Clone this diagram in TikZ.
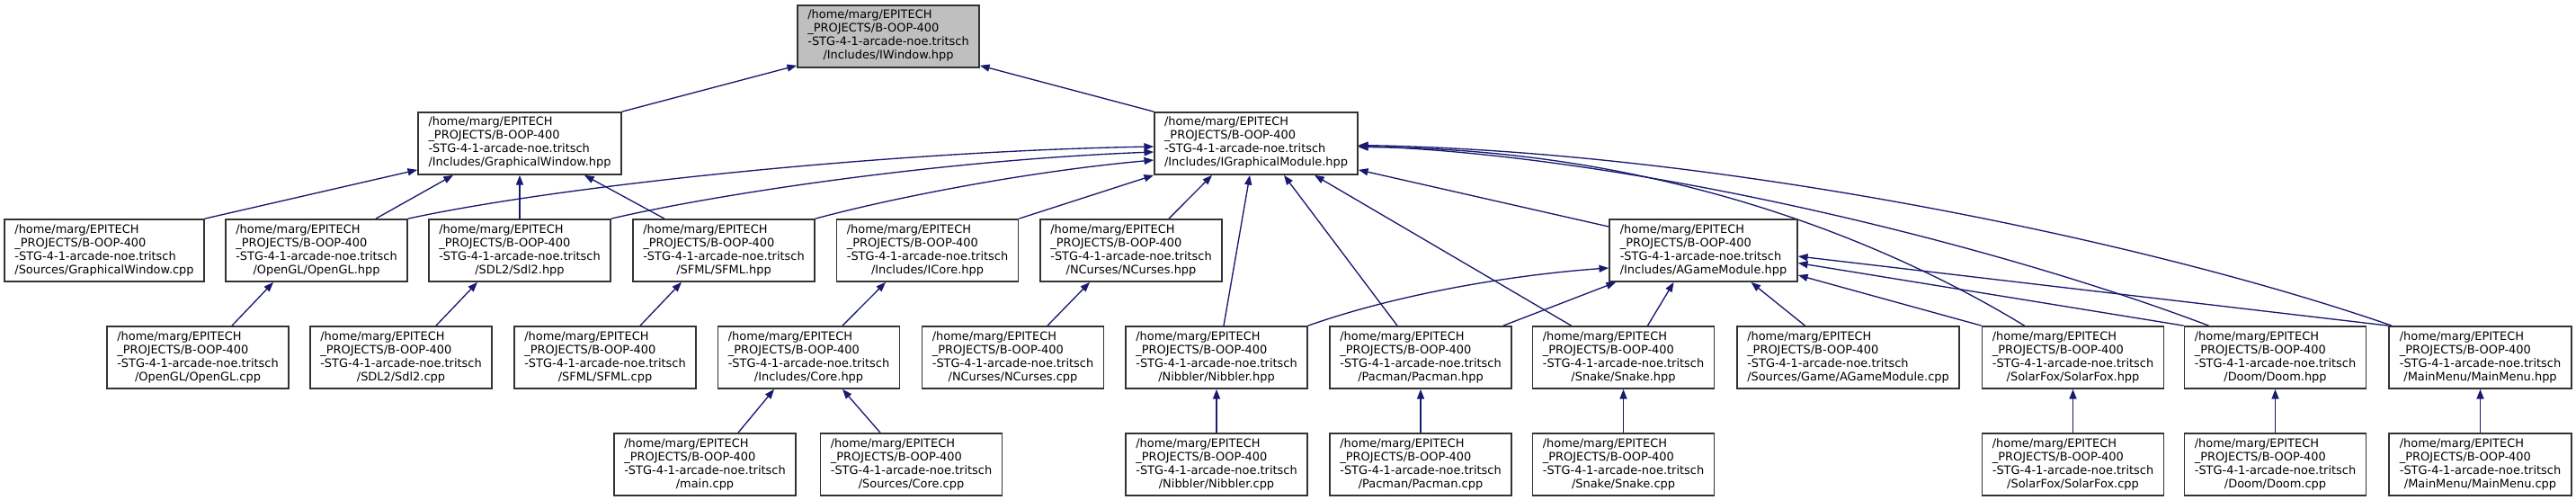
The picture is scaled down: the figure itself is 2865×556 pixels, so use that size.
\documentclass[tikz,border=0pt]{standalone}
\usepackage{fontspec}
\setmainfont{DejaVu Sans}
\usetikzlibrary{arrows.meta,calc}
\definecolor{edgeblue}{HTML}{191970}
\definecolor{boxline}{HTML}{333333}
\definecolor{rootfill}{HTML}{BFBFBF}
\pgfdeclarelayer{edgelayer}
\pgfsetlayers{edgelayer,main}
\newcommand{\dlabel}[1]{\fontsize{9.7}{11.25}\selectfont\begin{tabular}{@{}l@{}}/home/marg/EPITECH\\\_PROJECTS/B-OOP-400\\-STG-4-1-arcade-noe.tritsch\\\multicolumn{1}{@{}c@{}}{#1}\end{tabular}}
\begin{document}
\begin{tikzpicture}[x=0.75pt,y=-0.75pt,
  box/.style={draw=boxline, line width=1.3pt, fill=white, inner sep=0pt,
    minimum width=151.5pt, minimum height=51.75pt},
  dep/.style={draw=edgeblue, line width=1pt, -{Triangle[length=8pt,width=6pt]}}]
\useasboundingbox (0,0) rectangle (2865,556);
% row 1
\node[box, fill=rootfill] (iwin) at (988,40.5) {\dlabel{/Includes/IWindow.hpp}};
% row 2
\node[box, minimum width=169.5pt] (gwin) at (578,159.5) {\dlabel{/Includes/GraphicalWindow.hpp}};
\node[box, minimum width=169.5pt] (igm) at (1397,159.5) {\dlabel{/Includes/IGraphicalModule.hpp}};
% row 3
\node[box, minimum width=166.5pt] (gwcpp) at (116,278.5) {\dlabel{/Sources/GraphicalWindow.cpp}};
\node[box] (oglh) at (352,278.5) {\dlabel{/OpenGL/OpenGL.hpp}};
\node[box] (sdlh) at (578,278.5) {\dlabel{/SDL2/Sdl2.hpp}};
\node[box] (sfmlh) at (805,278.5) {\dlabel{/SFML/SFML.hpp}};
\node[box] (icore) at (1031.5,278.5) {\dlabel{/Includes/ICore.hpp}};
\node[box] (ncurh) at (1258,278.5) {\dlabel{/NCurses/NCurses.hpp}};
\node[box, minimum width=156.75pt] (agmh) at (1894.5,278.5) {\dlabel{/Includes/AGameModule.hpp}};
% row 4
\node[box] (oglc) at (220,397.5) {\dlabel{/OpenGL/OpenGL.cpp}};
\node[box] (sdlc) at (446,397.5) {\dlabel{/SDL2/Sdl2.cpp}};
\node[box] (sfmlc) at (673,397.5) {\dlabel{/SFML/SFML.cpp}};
\node[box] (coreh) at (899.5,397.5) {\dlabel{/Includes/Core.hpp}};
\node[box] (ncurc) at (1126.5,397.5) {\dlabel{/NCurses/NCurses.cpp}};
\node[box] (nibh) at (1353,397.5) {\dlabel{/Nibbler/Nibbler.hpp}};
\node[box] (pach) at (1580,397.5) {\dlabel{/Pacman/Pacman.hpp}};
\node[box] (snakeh) at (1805.5,397.5) {\dlabel{/Snake/Snake.hpp}};
\node[box, minimum width=185.25pt] (agmc) at (2055.5,397.5) {\dlabel{/Sources/Game/AGameModule.cpp}};
\node[box] (solh) at (2305.5,397.5) {\dlabel{/SolarFox/SolarFox.hpp}};
\node[box] (doomh) at (2530.5,397.5) {\dlabel{/Doom/Doom.hpp}};
\node[box, minimum width=152.25pt] (menuh) at (2758.5,397.5) {\dlabel{/MainMenu/MainMenu.hpp}};
% row 5
\node[box] (mainc) at (784,516.5) {\dlabel{/main.cpp}};
\node[box] (corec) at (1013.5,516.5) {\dlabel{/Sources/Core.cpp}};
\node[box] (nibc) at (1353,516.5) {\dlabel{/Nibbler/Nibbler.cpp}};
\node[box] (pacc) at (1580,516.5) {\dlabel{/Pacman/Pacman.cpp}};
\node[box] (snakec) at (1805.5,516.5) {\dlabel{/Snake/Snake.cpp}};
\node[box] (solc) at (2305.5,516.5) {\dlabel{/SolarFox/SolarFox.cpp}};
\node[box] (doomc) at (2530.5,516.5) {\dlabel{/Doom/Doom.cpp}};
\node[box, minimum width=152.25pt] (menuc) at (2758.5,516.5) {\dlabel{/MainMenu/MainMenu.cpp}};

\begin{pgfonlayer}{edgelayer}
% to IWindow
\draw[dep] (gwin.north east) -- ($(iwin.south west)+(0,-3)$);
\draw[dep] (igm.north west) -- ($(iwin.south east)+(0,-3)$);
% to GraphicalWindow
\draw[dep] (gwcpp.north east) -- ($(gwin.south west)+(0,-6)$);
\draw[dep] ($(oglh.north)+(66,0)$) -- ($(gwin.south)+(-74,0)$);
\draw[dep] (sdlh.north) -- (gwin.south);
\draw[dep] ($(sfmlh.north)+(-66,0)$) -- ($(gwin.south)+(72,0)$);
% to IGraphicalModule
\draw[dep] (oglh.north east) .. controls (630,205) and (1000,168) .. ($(igm.west)+(0,3.5)$);
\draw[dep] (sdlh.north east) .. controls (800,215) and (1050,178) .. ($(igm.west)+(0,9.5)$);
\draw[dep] (sfmlh.north east) .. controls (1000,218) and (1150,190) .. ($(igm.west)+(0,18.5)$);
\draw[dep] (icore.north east) -- (igm.south west);
\draw[dep] ($(ncurh.north)+(42,0)$) -- ($(igm.south)+(-49,0)$);
\draw[dep] ($(nibh.north)+(8,0)$) -- ($(igm.south)+(-7,0)$);
\draw[dep] ($(pach.north)+(-26,0)$) -- ($(igm.south)+(31,0)$);
\draw[dep] ($(snakeh.north)+(-58,0)$) -- ($(igm.south)+(65,0)$);
\draw[dep] ($(agmh.west)+(0,-26.5)$) -- ($(igm.south east)+(0,-6)$);
\draw[dep] ($(solh.north)+(-54,0)$) .. controls (2100,270) and (1850,165) .. ($(igm.east)+(0,4)$);
\draw[dep] ($(doomh.north)+(-74,0)$) .. controls (2200,265) and (1800,172) .. ($(igm.east)+(0,3)$);
\draw[dep] ($(menuh.north west)+(4,0)$) .. controls (2380,265) and (1900,168) .. ($(igm.east)+(0,2)$);
% to AGameModule.hpp
\draw[dep] (nibh.north east) .. controls (1560,325) and (1690,305) .. ($(agmh.west)+(0,19.5)$);
\draw[dep] ($(pach.north east)+(-10,0)$) -- ($(agmh.south west)+(8,0)$);
\draw[dep] ($(snakeh.north)+(27,0)$) -- ($(agmh.south)+(-33,0)$);
\draw[dep] ($(agmc.north)+(-48,0)$) -- ($(agmh.south)+(53,0)$);
\draw[dep] (solh.north west) -- ($(agmh.east)+(0,27.5)$);
\draw[dep] (doomh.north west) -- ($(agmh.east)+(0,14)$);
\draw[dep] (menuh.north west) -- ($(agmh.east)+(0,6.5)$);
% row 4 to row 3
\draw[dep] ($(oglc.north)+(38,0)$) -- ($(oglh.south)+(-48,0)$);
\draw[dep] ($(sdlc.north)+(39,0)$) -- ($(sdlh.south)+(-47,0)$);
\draw[dep] ($(sfmlc.north)+(39,0)$) -- ($(sfmlh.south)+(-47,0)$);
\draw[dep] ($(coreh.north)+(37.5,0)$) -- ($(icore.south)+(-46.5,0)$);
\draw[dep] ($(ncurc.north)+(38.5,0)$) -- ($(ncurh.south)+(-46,0)$);
% row 5 to row 4
\draw[dep] ($(mainc.north)+(37,0)$) -- ($(coreh.south)+(-38.5,0)$);
\draw[dep] ($(corec.north)+(-34.5,0)$) -- ($(coreh.south)+(37.5,0)$);
\draw[dep] (nibc.north) -- (nibh.south);
\draw[dep] (pacc.north) -- (pach.south);
\draw[dep] (snakec.north) -- (snakeh.south);
\draw[dep] (solc.north) -- (solh.south);
\draw[dep] (doomc.north) -- (doomh.south);
\draw[dep] (menuc.north) -- (menuh.south);
\end{pgfonlayer}
\end{tikzpicture}
\end{document}
